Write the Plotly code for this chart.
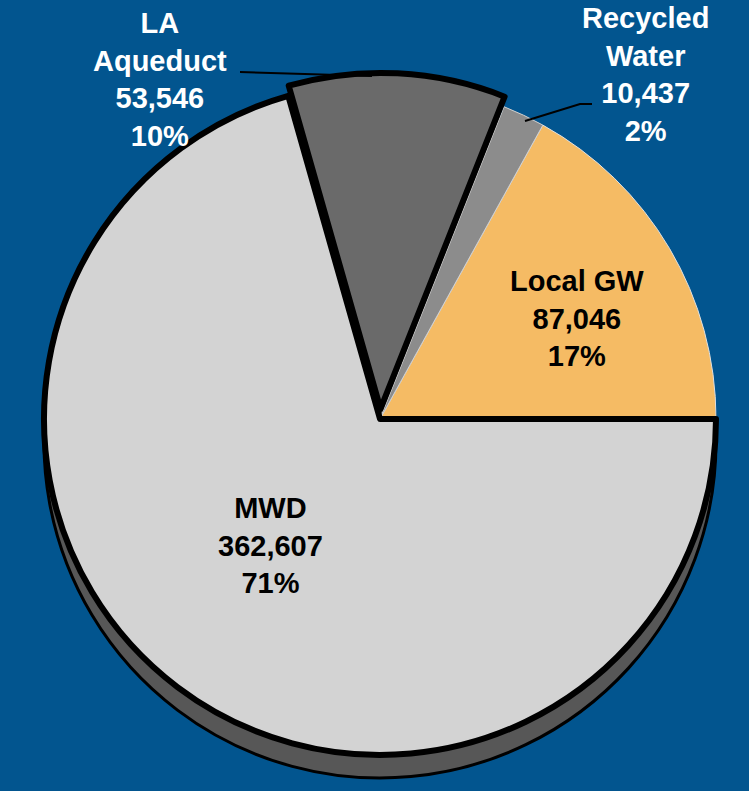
import plotly.graph_objects as go

# ---- data ----
names = ["Local GW", "Recycled<br>Water", "LA<br>Aqueduct", "MWD"]
values = [87046, 10437, 53546, 362607]
colors = ["#F5BB64", "#8C8C8C", "#6A6A6A", "#D3D3D3"]
pulls = [0, 0, 0.03, 0]

W, H = 749, 791
BG = "#02558F"
total = sum(values)
pcts = [round(v / total * 100) for v in values]

# first slice starts at 3 o'clock and runs counterclockwise
rot = 90 - 360 * values[0] / total

# geometry of pie (pixels)
cx, cy, r = 380, 419, 336
maxpull = max(pulls)
half = r * (1 + maxpull)
depth = 23


def dom(cyp):
    return dict(
        x=[max(0, (cx - half) / W), min(1, (cx + half) / W)],
        y=[max(0, (H - cyp - half) / H), min(1, (H - cyp + half) / H)],
    )


fig = go.Figure()
# 3D side (shadow pie)
fig.add_trace(go.Pie(
    values=values, labels=names, sort=False, direction="counterclockwise",
    rotation=rot, pull=pulls, domain=dom(cy + depth), textinfo="none",
    marker=dict(colors=["#575757"] * 4, line=dict(color="#000000", width=3)),
    hoverinfo="skip", showlegend=False,
))
# top surface
fig.add_trace(go.Pie(
    values=values, labels=names, sort=False, direction="counterclockwise",
    rotation=rot, pull=pulls, domain=dom(cy), textinfo="none",
    marker=dict(colors=colors,
                line=dict(color=["#E0E0E0", "#D0D0D0", "#000000", "#000000"],
                          width=[1, 1, 6, 6])),
    showlegend=False,
))

label_pos = [(577, 318, "black"), (645, 74, "white"), (160, 79, "white"), (270, 545, "black")]
for n, v, p, (x, y, c) in zip(names, values, pcts, label_pos):
    fig.add_annotation(
        x=x / W, y=1 - y / H, xref="paper", yref="paper", showarrow=False,
        text=f"<b>{n}<br>{v:,}<br>{p}%</b>",
        font=dict(family="Arial, Liberation Sans, sans-serif", size=29, color=c),
        xanchor="center", yanchor="middle", align="center",
    )


def P(x, y):
    return f"{x / W:.5f} {1 - y / H:.5f}"


fig.add_shape(type="path", xref="paper", yref="paper",
              path=f"M {P(240, 72)} L {P(372, 76)}",
              line=dict(color="black", width=2))
fig.add_shape(type="path", xref="paper", yref="paper",
              path=f"M {P(592, 104)} L {P(580, 104)} L {P(525, 121)}",
              line=dict(color="black", width=2))

fig.update_layout(
    width=W, height=H, margin=dict(l=0, r=0, t=0, b=0),
    paper_bgcolor=BG, plot_bgcolor=BG, showlegend=False,
)
fig.write_html("out.html")
